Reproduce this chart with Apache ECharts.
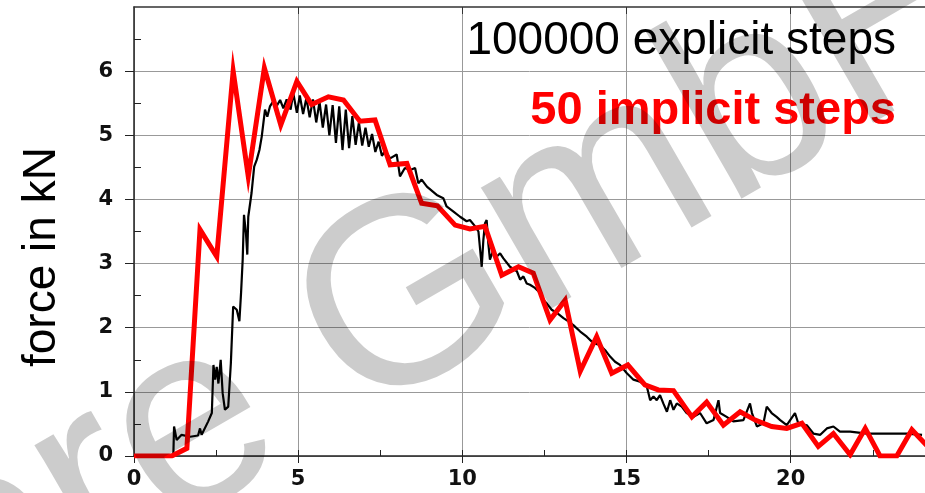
<!DOCTYPE html>
<html><head><meta charset="utf-8">
<script src="https://cdn.jsdelivr.net/npm/echarts@6/dist/echarts.min.js"></script>
<style>html,body{margin:0;padding:0;background:#fff}#c{width:925px;height:493px}</style>
</head><body><div id="c"></div><script>
const explicitSteps = [
[0,0],[1.15,0],[1.2,0.05],[1.22,0.46],[1.30,0.25],[1.45,0.33],[1.71,0.30],[1.95,0.32],[2.01,0.43],[2.06,0.33],
[2.26,0.54],[2.37,0.67],[2.42,1.42],[2.47,1.19],[2.52,1.39],[2.57,1.13],[2.64,1.5],[2.70,0.98],[2.77,0.72],[2.87,0.77],
[2.95,1.45],[3.02,2.33],[3.13,2.28],[3.21,2.10],[3.26,2.54],[3.31,3.06],[3.35,3.76],[3.41,3.47],[3.45,3.14],[3.48,3.73],
[3.58,4.10],[3.66,4.51],[3.74,4.62],[3.82,4.77],[3.89,4.98],[3.99,5.40],[4.06,5.29],[4.14,5.45],[4.24,5.53],[4.35,5.46],
[4.45,5.55],[4.55,5.42],[4.65,5.56],[4.77,5.40],[4.85,5.66],[4.96,5.35],
[5.05,5.62],[5.15,5.33],[5.25,5.58],[5.35,5.28],[5.45,5.56],[5.55,5.2],[5.65,5.52],[5.75,5.12],[5.85,5.48],[5.95,5.0],
[6.05,5.47],[6.15,4.88],[6.25,5.45],[6.35,4.77],[6.45,5.4],[6.55,4.8],[6.65,5.3],[6.75,4.85],[6.85,5.2],[6.95,4.84],
[7.05,5.12],[7.15,4.82],[7.25,5.02],[7.35,4.74],[7.45,4.9],[7.55,4.68],[7.65,4.76],
[7.80,4.64],[8.0,4.70],[8.10,4.36],[8.25,4.49],[8.41,4.46],[8.56,4.49],[8.66,4.25],[8.76,4.31],[8.92,4.20],[9.22,4.07],
[9.42,4.02],[9.52,3.89],[9.73,3.81],[9.93,3.73],[10.13,3.66],[10.23,3.68],[10.39,3.58],[10.49,3.50],[10.54,3.47],[10.59,2.95],
[10.64,3.37],[10.69,3.63],[10.74,3.68],[10.79,3.32],[10.84,3.06],[10.94,3.21],[11.05,3.11],[11.15,3.16],[11.25,3.08],[11.45,2.95],
[11.66,2.88],[11.76,2.75],[11.86,2.80],[11.96,2.69],[12.06,2.67],[12.21,2.62],[12.37,2.54],[12.47,2.43],[12.57,2.38],[12.72,2.28],
[12.88,2.23],[13.08,2.15],[13.23,2.10],[13.38,2.04],[13.59,1.94],[13.79,1.86],[13.99,1.76],[14.19,1.73],[14.35,1.65],[14.50,1.55],
[14.65,1.47],[14.80,1.42],[15.01,1.29],[15.21,1.19],[15.41,1.16],[15.62,1.08],[15.72,0.87],[15.82,0.93],[15.92,0.87],[16.02,0.95],
[16.12,0.82],[16.23,0.69],[16.33,0.87],[16.43,0.72],[16.53,0.82],[16.68,0.77],[16.83,0.67],[17.04,0.61],[17.24,0.67],[17.44,0.51],
[17.65,0.56],[17.80,0.87],[17.85,0.67],[18.05,0.61],[18.25,0.54],[18.56,0.56],[18.76,0.82],[18.82,0.67],[18.97,0.46],[19.17,0.51],
[19.27,0.77],[19.42,0.67],[19.57,0.61],[19.68,0.56],[19.88,0.48],[20.13,0.67],[20.23,0.51],[20.49,0.48],[20.69,0.35],[20.90,0.33],
[21.10,0.43],[21.30,0.46],[21.50,0.38],[21.81,0.38],[22.32,0.35],[22.82,0.35],[23.54,0.35],[24.0,0.33]
];
const implicitSteps = [
[0,0],[0.57,0],[1.15,0],[1.61,0.12],[2.01,3.53],[2.52,3.11],[3.02,6.0],[3.48,4.36],[3.97,6.05],[4.47,5.16],
[4.96,5.84],[5.41,5.48],[5.92,5.60],[6.38,5.55],[6.88,5.22],[7.34,5.24],[7.80,4.54],[8.31,4.56],[8.76,3.94],[9.24,3.90],
[9.78,3.60],[10.23,3.54],[10.69,3.58],[11.20,2.82],[11.71,2.95],[12.16,2.85],[12.67,2.12],[13.13,2.43],[13.59,1.32],[14.09,1.86],
[14.55,1.29],[15.04,1.42],[15.56,1.11],[15.97,1.03],[16.43,1.02],[16.99,0.61],[17.44,0.84],[17.95,0.48],[18.46,0.69],[18.92,0.56],
[19.42,0.46],[19.88,0.43],[20.34,0.51],[20.84,0.15],[21.30,0.35],[21.81,0.02],[22.27,0.43],[22.72,0.0],[23.23,0.0],[23.69,0.41],
[24.17,0.15]
];
const xTicks = [0,5,10,15,20];
const xMinorTicks = [2.5,5,7.5,10,12.5,15,17.5,20,22.5];
const yTicks = [0,1,2,3,4,5,6];
const yMinorTicks = [0.5,1.5,2.5,3.5,4.5,5.5,6.5];
const yTitle = 'force in kN';
const explicitName = '100000 explicit steps';
const implicitName = '50 implicit steps';
const watermarkHead = 'DYNAmor';
const watermarkTail = 'e GmbH';

const chart = echarts.init(document.getElementById('c'), null, {renderer:'canvas'});
const labelFont = {fontFamily:'DejaVu Sans', fontWeight:'bold', fontSize:21, color:'#111'};
const F = 265, rot = 30*Math.PI/180;
chart.setOption({
  animation:false,
  grid:{left:134, right:0, top:7, bottom:37},
  xAxis:[
    {type:'value', min:0, max:24.09, position:'bottom',
     axisLine:{show:true, lineStyle:{color:'#222', width:1.5}},
     axisTick:{show:true, inside:false, length:7, customValues:xTicks, lineStyle:{color:'#222'}},
     axisLabel:Object.assign({margin:13, customValues:xTicks}, labelFont),
     splitLine:{show:true, lineStyle:{color:'#999', width:1}}},
    {type:'value', min:0, max:24.09, position:'bottom',
     axisLine:{show:false}, axisLabel:{show:false}, splitLine:{show:false},
     axisTick:{show:true, inside:true, length:6, customValues:xMinorTicks, lineStyle:{color:'#222'}}},
    {type:'value', min:0, max:24.09, position:'top',
     axisLine:{show:true, lineStyle:{color:'#333', width:1.5}}, axisLabel:{show:false}, splitLine:{show:false},
     axisTick:{show:true, inside:true, length:7, customValues:xTicks.slice(1), lineStyle:{color:'#333'}}}
  ],
  yAxis:[
    {type:'value', min:0, max:7, interval:1, position:'left',
     axisLine:{show:true, lineStyle:{color:'#222', width:1.5}},
     axisTick:{show:true, inside:false, length:9, customValues:yTicks, lineStyle:{color:'#222'}},
     axisLabel:Object.assign({margin:21, customValues:yTicks}, labelFont),
     splitLine:{show:true, lineStyle:{color:'#999', width:1}}},
    {type:'value', min:0, max:7, position:'left',
     axisLine:{show:false}, axisLabel:{show:false}, splitLine:{show:false},
     axisTick:{show:true, inside:true, length:7, customValues:yMinorTicks, lineStyle:{color:'#222'}}}
  ],
  series:[
    {name:explicitName, type:'line', xAxisIndex:0, yAxisIndex:0, data:explicitSteps, showSymbol:false, symbol:'none',
     lineStyle:{color:'#000', width:2.2}, z:3},
    {name:implicitName, type:'line', xAxisIndex:0, yAxisIndex:0, data:implicitSteps, showSymbol:false, symbol:'none',
     lineStyle:{color:'#ff0000', width:5, join:'miter'}, z:4}
  ],
  graphic:[
    {type:'text', x:42, y:367, rotation:Math.PI/2, z:50,
     style:{text:yTitle, x:0, y:0, font:'46px "Liberation Sans"', fill:'#000', textAlign:'left', textVerticalAlign:'middle'}},
    {type:'text', x:896, y:41, z:50,
     style:{text:explicitName, x:0, y:0, font:'46px "Liberation Sans"', fill:'#000', textAlign:'right', textVerticalAlign:'middle'}},
    {type:'text', x:896, y:111, z:50,
     style:{text:implicitName, x:0, y:0, font:'bold 47px "Liberation Sans"', fill:'#ff0000', textAlign:'right', textVerticalAlign:'middle'}},
    {type:'text', x:129, y:468, rotation:rot, z:100, silent:true,
     style:{text:watermarkTail, x:0, y:0, font:F+'px "Liberation Sans"', fill:'rgba(0,0,0,0.2)', textAlign:'left', textVerticalAlign:'middle'}},
    {type:'text', x:129, y:468, rotation:rot, z:100, silent:true,
     style:{text:watermarkHead, x:0, y:0, font:F+'px "Liberation Sans"', fill:'rgba(0,0,0,0.2)', textAlign:'right', textVerticalAlign:'middle'}}
  ]
});
</script></body></html>
